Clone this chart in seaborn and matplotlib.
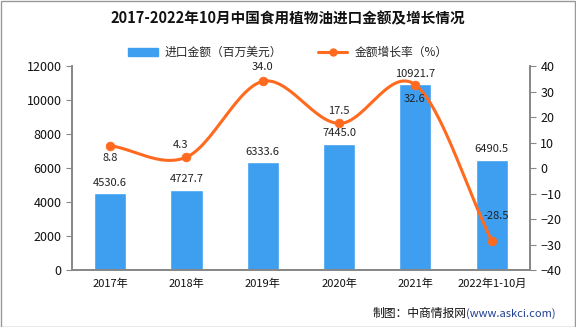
import numpy as np
import pandas as pd
import matplotlib
matplotlib.use("Agg")
import matplotlib.pyplot as plt
import seaborn as sns
from matplotlib.patches import Patch
from matplotlib.lines import Line2D

categories = ["2017年", "2018年", "2019年", "2020年", "2021年", "2022年1-10月"]
amount = [4530.6, 4727.7, 6333.6, 7445.0, 10921.7, 6490.5]
growth = [8.8, 4.3, 34.0, 17.5, 32.6, -28.5]
growth_offsets = [(0, -9), (-4, 9), (0, 10), (0, 9), (-1, -10), (3, 18)]

sns.set_theme(style="white")
plt.rcParams["font.family"] = ["Noto Sans CJK SC", "DejaVu Sans"]

BAR = "#3E9FF0"
LINE = "#FF6A1F"

fig = plt.figure(figsize=(5.76, 3.27), dpi=100)
ax = fig.add_axes([0.125, 0.174, 0.795, 0.624])
df = pd.DataFrame({"cat": categories, "amount": amount})
sns.barplot(data=df, x="cat", y="amount", color=BAR, width=0.42, ax=ax, saturation=1)
ax.set_ylim(0, 12000)
ax.set_yticks(range(0, 12001, 2000))
ax.set_xlabel("")
ax.set_ylabel("")
for i, v in enumerate(amount):
    ax.annotate(f"{v:.1f}", (i, v), xytext=(0, 4), textcoords="offset points",
                ha="center", va="bottom", fontsize=8, color="#222222")

ax2 = ax.twinx()
x = np.arange(len(growth), dtype=float)
y = np.array(growth, dtype=float)
# smooth rendering (Catmull-Rom through the data points)
xs, ys = [], []
pts = np.column_stack([x, y])
P = np.vstack([pts[0] - (pts[1] - pts[0]), pts, pts[-1] + (pts[-1] - pts[-2])])
for k in range(1, len(P) - 2):
    p0, p1, p2, p3 = P[k - 1], P[k], P[k + 1], P[k + 2]
    for t in np.linspace(0, 1, 30, endpoint=False):
        t2, t3 = t * t, t * t * t
        pt = 0.5 * ((2 * p1) + (-p0 + p2) * t + (2 * p0 - 5 * p1 + 4 * p2 - p3) * t2
                    + (-p0 + 3 * p1 - 3 * p2 + p3) * t3)
        xs.append(pt[0]); ys.append(pt[1])
xs.append(x[-1]); ys.append(y[-1])
ax2.plot(xs, ys, color=LINE, lw=2.2, zorder=3)
sns.scatterplot(x=x, y=y, color=LINE, s=40, ax=ax2, zorder=4, edgecolor=LINE, legend=False)
ax2.set_ylim(-40, 40)
ax2.set_yticks(range(-40, 41, 10))
for i, v in enumerate(growth):
    dx, dy = growth_offsets[i]
    ax2.annotate(f"{v:.1f}", (i, v), xytext=(dx, dy), textcoords="offset points",
                 ha="center", va="center", fontsize=8, color="#222222")

for a in (ax, ax2):
    for s in a.spines.values():
        s.set_color("#888888")
    a.spines["top"].set_visible(False)
    a.tick_params(axis="both", which="both", length=4, width=0.8, color="#888888",
                  labelsize=9, labelcolor="#111111", direction="out")
ax.tick_params(axis="x", labelsize=8, pad=6)
ax.tick_params(left=True, bottom=True)
ax2.tick_params(right=True)
ax.set_xticks(np.arange(-0.5, len(categories), 1.0), minor=True)
ax.tick_params(axis="x", which="major", length=0)
ax.tick_params(axis="x", which="minor", length=4, color="#888888")
ax.set_xlim(-0.5, len(categories) - 0.5)
ax.grid(False); ax2.grid(False)

fig.text(0.5, 0.945, "2017-2022年10月中国食用植物油进口金额及增长情况", ha="center", va="center",
         fontsize=10.5, fontweight="bold", color="#111111")
handles = [Patch(color=BAR, label="进口金额（百万美元）"),
           Line2D([0], [0], color=LINE, lw=2.2, marker="o", ms=5, label="金额增长率（%）")]
fig.legend(handles=handles, loc="center", bbox_to_anchor=(0.5, 0.84), ncol=2, frameon=False,
           fontsize=8.5, handlelength=2.5, columnspacing=3, handletextpad=0.6)
t_cn = fig.text(0.965, 0.04, "制图：中商情报网", ha="right", va="center", fontsize=8.5, color="#111111")
t_url = fig.text(0.965, 0.04, "(www.askci.com)", ha="right", va="center", fontsize=8, color="#1f3f8f")
fig.canvas.draw()
r = fig.canvas.get_renderer()
bb = t_url.get_window_extent(r)
t_cn.set_x(bb.x0 / fig.bbox.width)
fig.patches.append(plt.Rectangle((0.001, 0.001), 0.997, 0.997, transform=fig.transFigure,
                                 fill=False, edgecolor="#999999", lw=1))
fig.savefig("out.png", dpi=100)
